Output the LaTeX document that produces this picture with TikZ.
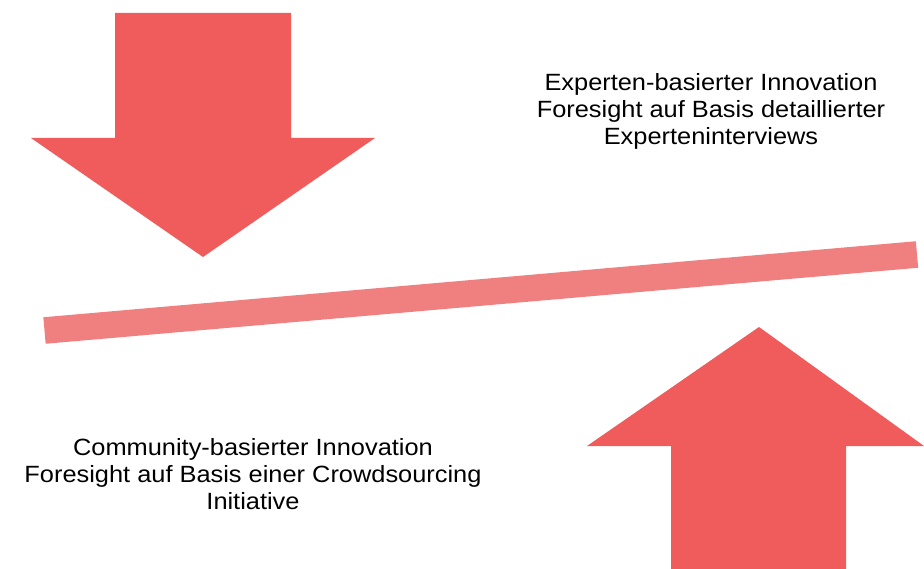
\documentclass[tikz,border=0pt]{standalone}
\usepackage{fontspec}
\setmainfont{Liberation Sans}
\newfontfamily\widesans[FakeStretch=1.08]{Liberation Sans}
\usepackage{tikz}
\usetikzlibrary{positioning}
\definecolor{arrowred}{RGB}{240,91,91}
\definecolor{barred}{RGB}{240,128,128}
\tikzset{
	arrowshape/.style={fill=arrowred, draw=none},
	labeltext/.style={align=center, inner sep=0pt, font=\widesans\fontsize{23.5}{27}\selectfont}
}

\begin{document}
\begin{tikzpicture}[x=1pt, y=-1pt]
	\useasboundingbox (0,0) rectangle (924,569);
	%% arrow from above
	\fill[arrowshape] (115,13) -- (291,13) -- (291,138) -- (375,138) -- (203,257) -- (31,138) -- (115,138) -- cycle;
	%% arrow from below
	\fill[arrowshape] (671,569) -- (846,569) -- (846,446) -- (924,446) -- (759,327) -- (587,446) -- (671,446) -- cycle;
	%% bar
	\coordinate (barleft) at (44.5,330.5);
	\coordinate (barright) at (917,254.5);
	\draw[barred, line width=26.6pt] (barleft) -- (barright);
	%% texts
	\node[labeltext] (expert) at (711,111) {Experten-basierter Innovation\\Foresight auf Basis detaillierter\\Experteninterviews};
	\node[labeltext] (community) at (253,474) {Community-basierter Innovation\\Foresight auf Basis einer Crowdsourcing\\Initiative};
\end{tikzpicture}
\end{document}
